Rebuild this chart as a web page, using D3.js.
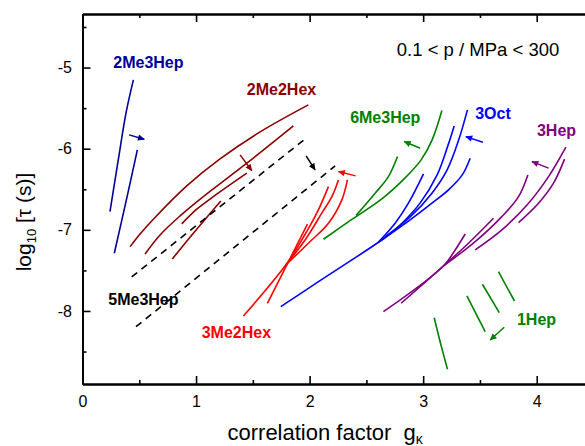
<!DOCTYPE html>
<html><head><meta charset="utf-8">
<script src="https://cdn.jsdelivr.net/npm/d3@7"></script>
<style>
html,body{margin:0;padding:0;background:#fff;}
svg{display:block;font-family:"Liberation Sans",Arial,Helvetica,sans-serif;}
</style></head><body>
<svg id="chart" width="585" height="446"></svg>
<script>
// Axis ticks: correlation factor g_kappa (x) and log10 of relaxation time (y)
const xTicks = [0, 1, 2, 3, 4];
const xMinor = [0.5, 1.5, 2.5, 3.5, 4.5];
const yTicks = [-8, -7, -6, -5];
const yMinor = [-8.5, -7.5, -6.5, -5.5, -4.5];

const compounds = ["2Me3Hep", "2Me2Hex", "5Me3Hep", "3Me2Hex", "6Me3Hep", "3Oct", "3Hep", "1Hep"];

// Isotherms as [g_kappa, log10 tau] pairs
const curves2Me3Hep = [
  [[0.448,-5.152],[0.383,-5.562],[0.315,-6.138],[0.242,-6.776]],
  [[0.483,-6.015],[0.383,-6.652],[0.280,-7.289]]
];
const curves2Me2Hex = [
  [[0.419,-7.207],[0.507,-7.051],[0.624,-6.869],[0.918,-6.459],[1.211,-6.126],[1.564,-5.793],[1.989,-5.460]],
  [[0.551,-7.297],[0.683,-7.063],[0.859,-6.829],[1.064,-6.591],[1.447,-6.179],[1.857,-5.719]],
  [[0.874,-6.927],[1.006,-6.746],[1.152,-6.591],[1.447,-6.302]],
  [[0.791,-7.359],[0.976,-7.042],[1.218,-6.644]]
];
const curves5Me3Hep = [
  [[0.433,-7.581],[1.975,-5.863]],
  [[0.471,-8.194],[2.225,-6.212]]
];
const curves3Me2Hex = [
  [[1.628,-7.905],[1.981,-6.931]],
  [[1.417,-8.062],[1.790,-7.433],[1.931,-7.125],[2.063,-6.795],[2.166,-6.467]],
  [[1.790,-7.433],[1.960,-7.125],[2.107,-6.795],[2.196,-6.591],[2.254,-6.385]],
  [[1.790,-7.433],[1.989,-7.165],[2.166,-6.919],[2.284,-6.631],[2.333,-6.385]]
];
const curves6Me3Hep = [
  [[2.122,-7.116],[2.372,-6.872],[2.636,-6.619],[2.841,-6.360],[2.982,-6.138],[3.079,-5.891],[3.165,-5.530]],
  [[2.410,-6.822],[2.577,-6.549],[2.694,-6.344],[2.774,-6.097]]
];
const curves3Oct = [
  [[1.746,-7.947],[2.078,-7.639],[2.372,-7.371],[2.636,-7.125],[2.885,-6.878],[3.077,-6.672],[3.223,-6.508],[3.344,-6.323],[3.414,-6.117]],
  [[2.636,-7.125],[2.797,-6.940],[2.974,-6.668],[3.123,-6.323],[3.220,-5.953],[3.273,-5.719]],
  [[2.665,-7.088],[2.885,-6.841],[3.079,-6.545],[3.211,-6.261],[3.313,-5.891],[3.390,-5.522]],
  [[2.604,-7.155],[2.753,-6.919],[2.870,-6.672],[3.003,-6.311]]
];
const curves3Hep = [
  [[2.650,-8.009],[3.179,-7.445],[3.282,-7.248],[3.370,-7.051]],
  [[2.806,-7.905],[3.179,-7.445],[3.399,-7.165],[3.619,-6.857]],
  [[3.179,-7.445],[3.458,-7.145],[3.693,-6.837],[3.840,-6.591],[3.922,-6.323]],
  [[3.458,-7.248],[3.693,-7.001],[3.928,-6.672],[4.104,-6.344],[4.257,-5.981]],
  [[3.840,-6.911],[4.016,-6.672],[4.148,-6.425],[4.245,-6.129]]
];
const curves1Hep = [
  [[3.097,-8.083],[3.150,-8.382],[3.214,-8.719]],
  [[3.385,-7.815],[3.546,-8.255]],
  [[3.522,-7.671],[3.670,-8.021]],
  [[3.663,-7.515],[3.804,-7.877]]
];

// Direction of increasing pressure: [from, to]
const arrow2Me3Hep = [[0.410,-5.830],[0.544,-5.883]];
const arrow2Me2Hex = [[1.388,-6.076],[1.491,-6.270]];
const arrow5Me3Hep = [[1.969,-6.089],[2.048,-6.261]];
const arrow3Me2Hex = [[2.405,-6.335],[2.254,-6.282]];
const arrow6Me3Hep = [[2.974,-5.994],[2.833,-5.912]];
const arrow3Oct    = [[3.526,-5.920],[3.376,-5.851]];
const arrow3Hep    = [[4.104,-6.240],[3.958,-6.159]];
const arrow1Hep    = [[3.714,-8.201],[3.590,-8.358]];

const pressureNote = "0.1 < p / MPa < 300";

// ---- presentation ----
const colors = {
  "2Me3Hep": "#000099", "2Me2Hex": "#8b0000", "5Me3Hep": "#000000", "3Me2Hex": "#ff0000",
  "6Me3Hep": "#008000", "3Oct": "#0000ff", "3Hep": "#800080", "1Hep": "#008000"
};
const labelAt = {
  "2Me3Hep": [0.271,-5.000], "2Me2Hex": [1.447,-5.337], "5Me3Hep": [0.227,-7.926],
  "3Me2Hex": [1.050,-8.337], "6Me3Hep": [2.357,-5.686], "3Oct": [3.458,-5.636],
  "3Hep": [4.002,-5.842], "1Hep": [3.826,-8.173]
};
const seriesCurves = {
  "2Me3Hep": curves2Me3Hep, "2Me2Hex": curves2Me2Hex, "5Me3Hep": curves5Me3Hep,
  "3Me2Hex": curves3Me2Hex, "6Me3Hep": curves6Me3Hep, "3Oct": curves3Oct,
  "3Hep": curves3Hep, "1Hep": curves1Hep
};
const seriesArrows = {
  "2Me3Hep": arrow2Me3Hep, "2Me2Hex": arrow2Me2Hex, "5Me3Hep": arrow5Me3Hep,
  "3Me2Hex": arrow3Me2Hex, "6Me3Hep": arrow6Me3Hep, "3Oct": arrow3Oct,
  "3Hep": arrow3Hep, "1Hep": arrow1Hep
};

const svg = d3.select("#chart");
const mLeft = 82.5, mRight = 593.5, mTop = 14, mBottom = 384;
const x = d3.scaleLinear().domain([0, 4.5]).range([mLeft, mRight]);
const y = d3.scaleLinear().domain([-8.9, -4.34]).range([mBottom, mTop]);

// arrowheads, one per colour
const defs = svg.append("defs");
compounds.forEach((c, i) => {
  defs.append("marker")
    .attr("id", "head" + i)
    .attr("viewBox", "0 0 10 10").attr("refX", 9).attr("refY", 5)
    .attr("markerUnits", "userSpaceOnUse")
    .attr("markerWidth", 8).attr("markerHeight", 7)
    .attr("orient", "auto")
    .append("path").attr("d", "M0,0.5 L10,5 L0,9.5 Z").attr("fill", colors[c]);
});

const line = d3.line().x(d => x(d[0])).y(d => y(d[1])).curve(d3.curveCatmullRom.alpha(0.5));

const plot = svg.append("g");
compounds.forEach((c, i) => {
  const g = plot.append("g");
  g.selectAll("path.curve").data(seriesCurves[c]).join("path")
    .attr("class", "curve")
    .attr("d", line)
    .attr("fill", "none")
    .attr("stroke", colors[c])
    .attr("stroke-width", 1.6)
    .attr("stroke-dasharray", c === "5Me3Hep" ? "7,5.5" : null);
  const a = seriesArrows[c];
  g.append("line")
    .attr("x1", x(a[0][0])).attr("y1", y(a[0][1]))
    .attr("x2", x(a[1][0])).attr("y2", y(a[1][1]))
    .attr("stroke", colors[c]).attr("stroke-width", 1.5)
    .attr("marker-end", "url(#head" + i + ")");
  g.append("text")
    .attr("x", x(labelAt[c][0])).attr("y", y(labelAt[c][1]))
    .attr("fill", colors[c])
    .style("font-size", "16px").attr("font-weight", "bold")
    .text(c);
});

svg.append("text")
  .attr("x", x(2.768)).attr("y", y(-4.856))
  .style("font-size", "18.5px").attr("fill", "#000")
  .text(pressureNote);

// axes with inward ticks
function styleAxis(g) {
  g.attr("font-size", null).attr("font-family", null);
  g.select(".domain").attr("stroke", "#000").attr("stroke-width", 2);
  g.selectAll(".tick line").attr("stroke", "#000").attr("stroke-width", 1.6);
  g.selectAll(".tick text").style("font-size", "16px").attr("fill", "#000");
}
const intFmt = d => String(d);
svg.append("g").attr("transform", `translate(0,${mBottom})`)
  .call(d3.axisBottom(x).tickValues(xTicks).tickFormat(intFmt).tickSizeInner(-8).tickSizeOuter(0).tickPadding(12))
  .call(styleAxis);
svg.append("g").attr("transform", `translate(0,${mBottom})`)
  .call(d3.axisBottom(x).tickValues(xMinor).tickFormat("").tickSizeInner(-4).tickSizeOuter(0))
  .call(styleAxis);
svg.append("g").attr("transform", `translate(0,${mTop})`)
  .call(d3.axisTop(x).tickValues(xTicks).tickFormat("").tickSizeInner(-8).tickSizeOuter(0))
  .call(styleAxis);
svg.append("g").attr("transform", `translate(0,${mTop})`)
  .call(d3.axisTop(x).tickValues(xMinor).tickFormat("").tickSizeInner(-4).tickSizeOuter(0))
  .call(styleAxis);
svg.append("g").attr("transform", `translate(${mLeft},0)`)
  .call(d3.axisLeft(y).tickValues(yTicks).tickFormat(intFmt).tickSizeInner(-8).tickSizeOuter(0).tickPadding(10.5))
  .call(styleAxis);
svg.append("g").attr("transform", `translate(${mLeft},0)`)
  .call(d3.axisLeft(y).tickValues(yMinor).tickFormat("").tickSizeInner(-4).tickSizeOuter(0))
  .call(styleAxis);
svg.append("g").attr("transform", `translate(${mRight},0)`)
  .call(d3.axisRight(y).tickValues(yTicks).tickFormat("").tickSizeInner(-8).tickSizeOuter(0))
  .call(styleAxis);

// axis titles
const xt = svg.append("text").attr("x", 227.5).attr("y", 440)
  .style("font-size", "22px").style("white-space", "pre").attr("fill", "#000");
xt.append("tspan").text("correlation factor  g");
xt.append("tspan").style("font-size", "14px").attr("dy", 4).text("\u03ba");

const yt = svg.append("text")
  .attr("transform", "translate(31,222) rotate(-90)")
  .attr("text-anchor", "middle").style("font-size", "21px").attr("fill", "#000");
yt.append("tspan").text("log");
yt.append("tspan").style("font-size", "13px").attr("dy", 5).text("10");
yt.append("tspan").attr("dy", -5).text(" [\u03c4 (s)]");
</script>
</body></html>
